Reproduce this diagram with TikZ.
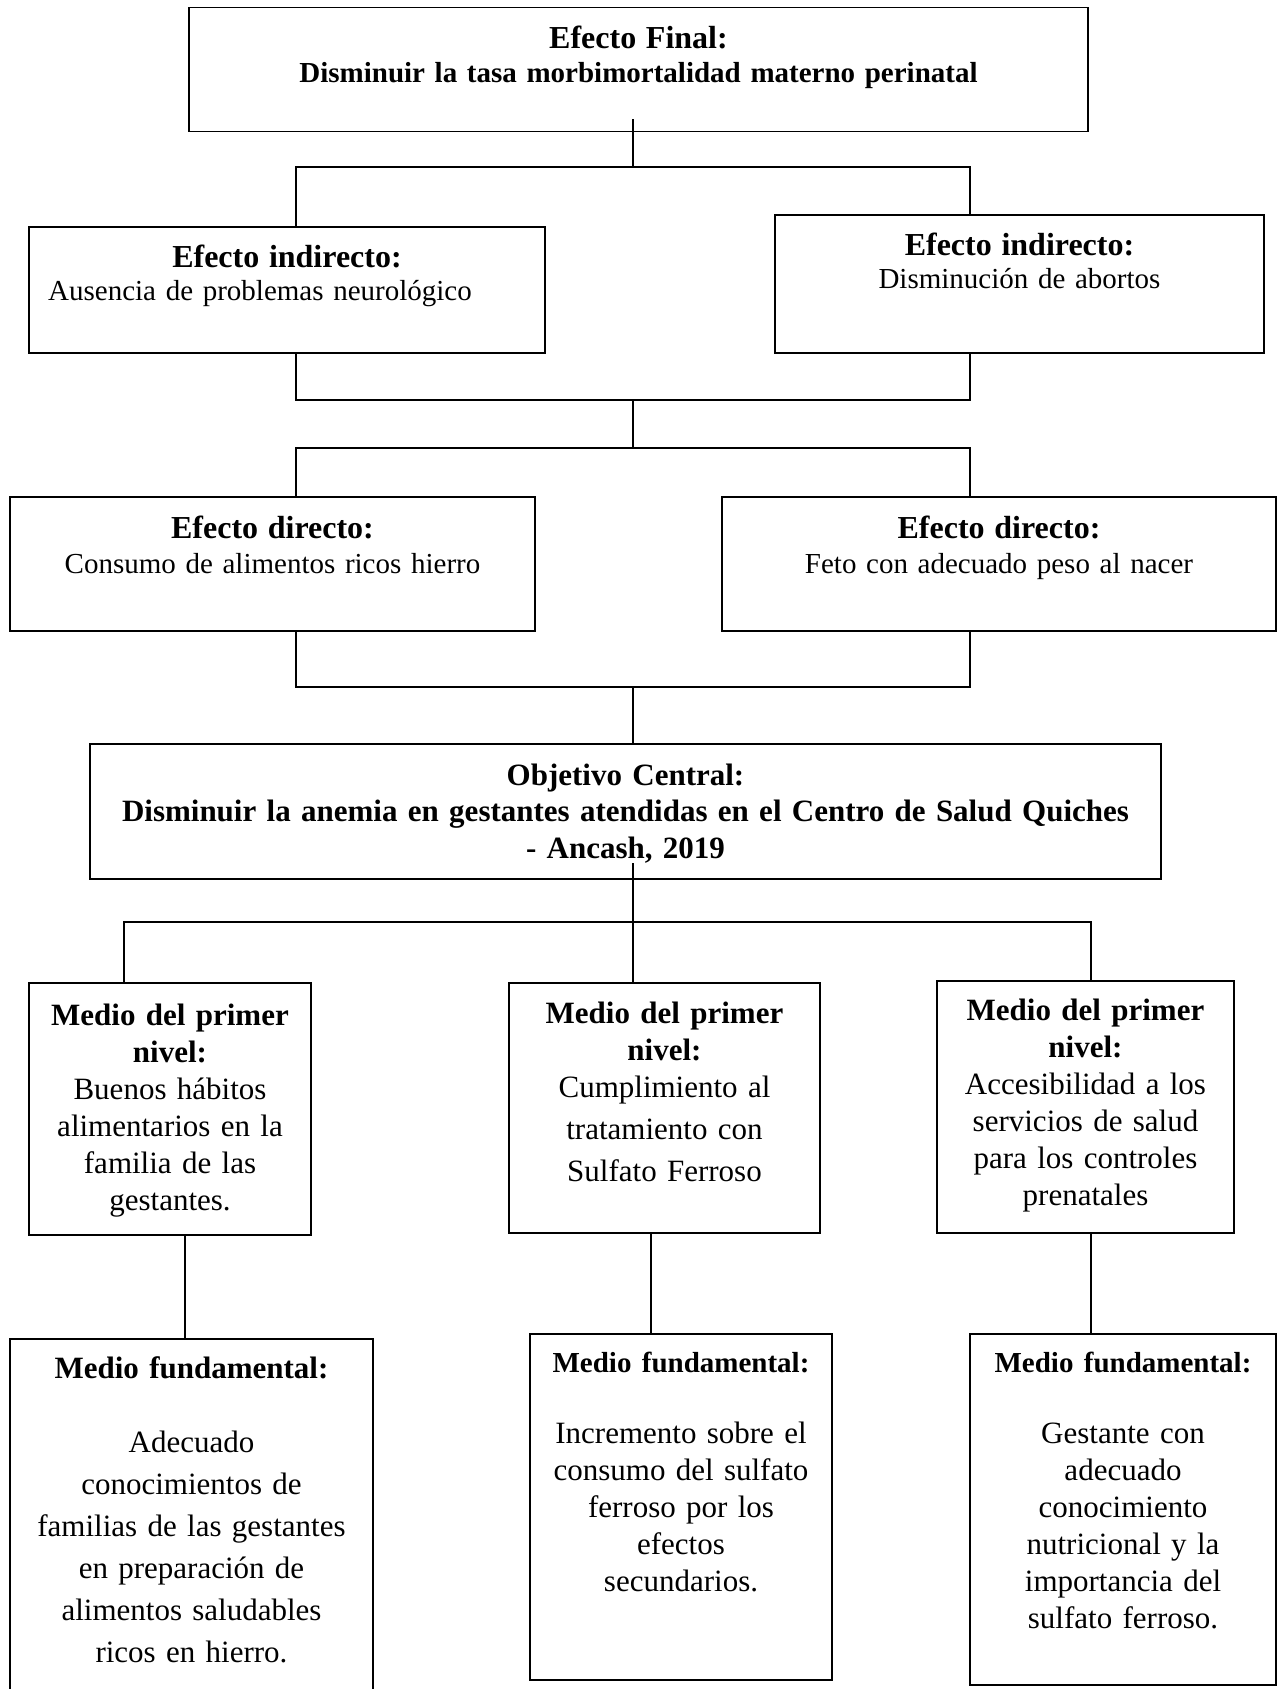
\documentclass[tikz,border=0pt]{standalone}
\usepackage{fontspec}
\setmainfont{Liberation Serif}
\usetikzlibrary{positioning}

\newcommand{\ttl}[1]{{\fontsize{32}{34}\selectfont\textbf{#1}}}

\begin{document}
\begin{tikzpicture}[
     x=1pt, y=-1pt,
     % define styles
     cell/.style={
         draw,
         line width=1.8pt,
         rectangle,
         inner sep=0pt
     },
     txt/.style={
         anchor=base,
         inner sep=0pt,
         align=center,
         font=\fontsize{29}{34}\selectfont
     },
     txtbig/.style={
         txt,
         font=\fontsize{31}{37}\selectfont
     },
     wire/.style={
         line width=1.2pt
     }
]
\useasboundingbox (0,0) rectangle (1278,1689);

% boxes
\node[cell, minimum width=899, minimum height=124] (fin) at (638.5,69.5) {};
\node[cell, minimum width=516, minimum height=126] (ind1) at (287,290) {};
\node[cell, minimum width=489, minimum height=138] (ind2) at (1019.5,284) {};
\node[cell, minimum width=525, minimum height=134] (dir1) at (272.5,564) {};
\node[cell, minimum width=554, minimum height=134] (dir2) at (999,564) {};
\node[cell, minimum width=1071, minimum height=135] (obj) at (625.5,811.5) {};
\node[cell, minimum width=282, minimum height=252] (med1) at (170,1109) {};
\node[cell, minimum width=311, minimum height=250] (med2) at (664.5,1108) {};
\node[cell, minimum width=297, minimum height=252] (med3) at (1085.5,1107) {};
\node[cell, minimum width=363, minimum height=356] (fun1) at (191.5,1517) {};
\node[cell, minimum width=302, minimum height=346] (fun2) at (681,1507) {};
\node[cell, minimum width=306, minimum height=351] (fun3) at (1123,1509.5) {};

% texts
\node[txt, text width=899] (fin-t) at (638.5,48)
    {\ttl{Efecto Final:}\\ \textbf{Disminuir la tasa morbimortalidad materno perinatal}};
\node[txt, text width=516, font=\fontsize{29}{33}\selectfont] (ind1-t) at (287,267)
    {\ttl{Efecto indirecto:}\\ Ausencia de problemas neurológico\hspace*{54pt}\mbox{}};
\node[txt, text width=489, font=\fontsize{29}{33}\selectfont] (ind2-t) at (1019.5,255)
    {\ttl{Efecto indirecto:}\\ Disminución de abortos};
\node[txt, text width=525, font=\fontsize{29}{35}\selectfont] (dir1-t) at (272.5,538)
    {\ttl{Efecto directo:}\\ Consumo de alimentos ricos hierro};
\node[txt, text width=554, font=\fontsize{29}{35}\selectfont] (dir2-t) at (999,538)
    {\ttl{Efecto directo:}\\ Feto con adecuado peso al nacer};
\node[txt, text width=1071, font=\fontsize{31}{36.5}\selectfont] (obj-t) at (625.5,785)
    {\textbf{Objetivo Central:}\\
     \textbf{Disminuir la anemia en gestantes atendidas en el Centro de Salud Quiches}\\
     \textbf{- Ancash, 2019}};
\node[txtbig, text width=282] (med1-t) at (170,1025)
    {\textbf{Medio del primer}\\ \textbf{nivel:}\\ Buenos hábitos\\ alimentarios en la\\
     familia de las\\ gestantes.};
\node[txtbig, text width=311] (med2-t) at (664.5,1023)
    {\textbf{Medio del primer}\\ \textbf{nivel:}\\ Cumplimiento al\\[5pt] tratamiento con\\[5pt]
     Sulfato Ferroso};
\node[txtbig, text width=297] (med3-t) at (1085.5,1020)
    {\textbf{Medio del primer}\\ \textbf{nivel:}\\ Accesibilidad a los\\ servicios de salud\\
     para los controles\\ prenatales};
\node[txtbig, text width=363, font=\fontsize{31}{42}\selectfont] (fun1-t) at (191.5,1378)
    {\textbf{Medio fundamental:}\\[32pt] Adecuado\\ conocimientos de\\
     familias de las gestantes\\ en preparación de\\ alimentos saludables\\ ricos en hierro.};
\node[txtbig, text width=302] (fun2-t) at (681,1372)
    {\fontsize{29}{37}\selectfont\textbf{Medio fundamental:}\\[34pt]
     \fontsize{31}{37}\selectfont Incremento sobre el\\ consumo del sulfato\\ ferroso por los\\
     efectos\\ secundarios.};
\node[txtbig, text width=306] (fun3-t) at (1123,1372)
    {\fontsize{29}{37}\selectfont\textbf{Medio fundamental:}\\[34pt]
     \fontsize{31}{37}\selectfont Gestante con\\ adecuado\\ conocimiento\\ nutricional y la\\
     importancia del\\ sulfato ferroso.};

% junction points
\coordinate (fin-o) at (633,119);
\coordinate (j1) at (633,167);
\coordinate (j1l) at (296,167);
\coordinate (j1r) at (970,167);
\coordinate (j2) at (633,400);
\coordinate (j2l) at (296,400);
\coordinate (j2r) at (970,400);
\coordinate (j3) at (633,448);
\coordinate (j3l) at (296,448);
\coordinate (j3r) at (970,448);
\coordinate (j4) at (633,687);
\coordinate (j4l) at (296,687);
\coordinate (j4r) at (970,687);
\coordinate (obj-o) at (633,863);
\coordinate (j5) at (633,922);
\coordinate (j5l) at (124,922);
\coordinate (j5r) at (1091,922);
\coordinate (k1) at (185,0);
\coordinate (k2) at (651,0);
\coordinate (k3) at (1091,0);

% efecto final to efectos indirectos
\draw[wire] (fin-o) -- (j1);
\draw[wire] (j1l |- ind1.north) -- (j1l) -- (j1r) -- (j1r |- ind2.north);
% efectos indirectos to efectos directos
\draw[wire] (j2l |- ind1.south) -- (j2l) -- (j2r) -- (j2r |- ind2.south);
\draw[wire] (j2) -- (j3);
\draw[wire] (j3l |- dir1.north) -- (j3l) -- (j3r) -- (j3r |- dir2.north);
% efectos directos to objetivo
\draw[wire] (j4l |- dir1.south) -- (j4l) -- (j4r) -- (j4r |- dir2.south);
\draw[wire] (j4) -- (j4 |- obj.north);
% objetivo to medios
\draw[wire] (obj-o) -- (j5);
\draw[wire] (j5l |- med1.north) -- (j5l) -- (j5r) -- (j5r |- med3.north);
\draw[wire] (j5) -- (j5 |- med2.north);
% medios to medios fundamentales
\draw[wire] (k1 |- med1.south) -- (k1 |- fun1.north);
\draw[wire] (k2 |- med2.south) -- (k2 |- fun2.north);
\draw[wire] (k3 |- med3.south) -- (k3 |- fun3.north);

\end{tikzpicture}
\end{document}
